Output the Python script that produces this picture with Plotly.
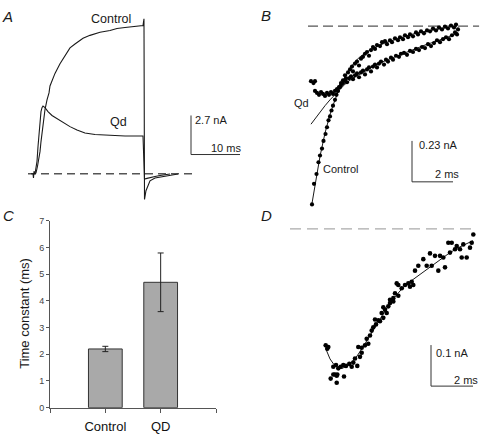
import plotly.graph_objects as go

# ---------------- Panel A : current traces (ms, nA) ----------------
a_time_control = [-0.82, -0.41, -0.31, -0.20, 0.00, 0.20, 0.51, 0.71, 1.02, 1.22, 1.43, 1.63, 1.84, 2.04,
                  2.45, 2.86, 3.06, 3.47, 4.08, 5.10, 6.12, 7.14, 8.16, 9.80, 11.22, 13.27, 15.31, 16.73,
                  18.37, 20.00, 22.04, 22.24, 22.35, 22.65, 23.06, 23.47, 24.49, 25.51, 26.53, 28.16, 29.18]
a_curr_control = [0, 0, -0.29, 0.18, 0, 0.05, 0.52, 0.86, 1.53, 2.21, 2.89, 3.56, 4.10, 4.44,
                  5.11, 5.59, 6.07, 6.47, 6.94, 7.61, 8.16, 8.70, 8.97, 9.37, 9.57, 9.78, 9.91, 10.05,
                  10.11, 10.18, 10.25, 10.72, -1.78, -1.17, -0.76, -0.49, -0.29, -0.22, -0.16, -0.05, -0.02]
a_time_qd = [0.00, 0.20, 0.41, 0.61, 0.82, 1.02, 1.22, 1.43, 1.63, 2.04, 2.65, 3.47, 4.69, 5.92,
             7.14, 8.57, 10.20, 12.24, 15.31, 18.37, 22.04, 22.35, 22.86, 23.47, 24.49, 25.51, 26.53, 27.55]
a_curr_qd = [0, 0.32, 0.86, 1.87, 2.89, 3.70, 4.30, 4.57, 4.68, 4.57, 4.30, 4.03, 3.76, 3.49,
             3.26, 3.02, 2.82, 2.72, 2.65, 2.61, 2.61, -0.36, -0.32, -0.26, -0.19, -0.12, -0.05, -0.02]
a_baseline_t = [-1.43, 32.24]

# ---------------- Panel B : activation, points and fits (ms, nA) ----------------
b_t_control = [0, 0.098, 0.220, 0.317, 0.390, 0.488, 0.561, 0.659, 0.732, 0.805, 0.878, 0.951, 1.024, 1.122,
               1.195, 1.268, 1.366, 1.415, 1.512, 1.610, 1.659, 1.756, 1.854, 1.951, 2.000, 2.098, 2.195,
               2.293, 2.390, 2.488, 2.585, 2.683, 2.780, 2.878, 2.976, 3.073, 3.171, 3.317, 3.415, 3.561,
               3.659, 3.805, 3.902, 4.049, 4.195, 4.293, 4.439, 4.537, 4.683, 4.780, 4.927, 5.073, 5.171,
               5.317, 5.463, 5.610, 5.756, 5.902, 6.049, 6.195, 6.341, 6.488, 6.634, 6.780, 6.927, 7.024]
b_i_control = [-1.002, -0.886, -0.831, -0.765, -0.727, -0.688, -0.645, -0.606, -0.568, -0.529, -0.507, -0.474,
               -0.447, -0.414, -0.386, -0.364, -0.342, -0.320, -0.304, -0.276, -0.293, -0.260, -0.243, -0.227,
               -0.254, -0.210, -0.199, -0.221, -0.183, -0.172, -0.155, -0.145, -0.166, -0.134, -0.117, -0.128,
               -0.106, -0.112, -0.090, -0.084, -0.101, -0.079, -0.090, -0.068, -0.079, -0.062, -0.073, -0.051,
               -0.062, -0.046, -0.057, -0.035, -0.046, -0.029, -0.040, -0.024, -0.029, -0.013, -0.024, -0.007,
               -0.018, -0.002, -0.013, 0.004, -0.007, 0.009]
b_t_qd = [-0.049, 0.073, 0.146, 0.146, 0.244, 0.341, 0.439, 0.537, 0.634, 0.732, 0.829, 0.927, 1.024, 1.122,
          1.220, 1.317, 1.415, 1.512, 1.610, 1.707, 1.805, 1.902, 2.000, 2.098, 2.195, 2.293, 2.390, 2.488,
          2.585, 2.683, 2.780, 2.878, 2.976, 3.073, 3.171, 3.268, 3.366, 3.512, 3.610, 3.707, 3.854, 3.951,
          4.098, 4.244, 4.341, 4.488, 4.634, 4.780, 4.927, 5.073, 5.220, 5.366, 5.512, 5.659, 5.805, 5.951,
          6.098, 6.244, 6.390, 6.537, 6.683, 6.829, 6.976, 7.073, 7.122]
b_i_qd = [-0.309, -0.320, -0.309, -0.364, -0.375, -0.386, -0.370, -0.381, -0.392, -0.375, -0.386, -0.370,
          -0.381, -0.364, -0.353, -0.342, -0.331, -0.320, -0.304, -0.315, -0.293, -0.282, -0.298, -0.276,
          -0.265, -0.287, -0.260, -0.249, -0.271, -0.243, -0.232, -0.254, -0.227, -0.216, -0.232, -0.210,
          -0.199, -0.216, -0.188, -0.199, -0.177, -0.188, -0.166, -0.172, -0.155, -0.150, -0.161, -0.139,
          -0.145, -0.128, -0.134, -0.117, -0.123, -0.101, -0.112, -0.095, -0.079, -0.090, -0.073, -0.062,
          -0.073, -0.051, -0.035, -0.046, -0.018]
b_fit_t_control = [0, 0.390, 0.634, 0.878, 1.122, 1.366, 1.610, 1.854, 2.098, 2.341, 2.829, 3.317, 3.805,
                   4.293, 4.780, 5.268, 5.756, 6.244, 6.732, 7.073]
b_fit_i_control = [-0.996, -0.732, -0.601, -0.496, -0.414, -0.342, -0.287, -0.238, -0.199, -0.172, -0.134,
                   -0.106, -0.084, -0.065, -0.048, -0.035, -0.024, -0.013, -0.004, 0.0]
b_fit_t_qd = [-0.049, 0.195, 0.390, 0.634, 0.878, 1.122, 1.366, 1.610, 1.854, 2.146, 2.585, 3.073, 3.561,
              4.049, 4.537, 5.024, 5.512, 6.000, 6.488, 6.976, 7.122]
b_fit_i_qd = [-0.551, -0.513, -0.485, -0.447, -0.414, -0.386, -0.353, -0.326, -0.304, -0.282, -0.254, -0.221,
              -0.194, -0.172, -0.147, -0.125, -0.106, -0.087, -0.068, -0.046, -0.035]
b_baseline_t = [-0.195, 8.15]

# ---------------- Panel C : time constants (ms) ----------------
c_categories = ["Control", "QD"]
c_means = [2.2, 4.7]
c_errors = [0.1, 1.1]
c_yticks = [0, 1, 2, 3, 4, 5, 6, 7]

# ---------------- Panel D : Qd activation, points and fit (ms, nA) ----------------
d_t_points = [-0.014, 0.110, 0.062, 0.348, 0.476, 0.586, 0.429, 0.538, 0.224, 0.348, 0.510, 0.510, 0.857,
              0.700, 0.824, 0.952, 1.110, 1.224, 1.300, 1.381, 1.490, 1.619, 1.700, 1.538, 1.700, 1.857,
              2.014, 1.938, 2.095, 2.176, 2.252, 2.381, 2.490, 2.333, 2.571, 2.729, 2.652, 2.810, 2.729,
              2.967, 2.890, 3.048, 3.205, 3.286, 3.443, 3.367, 3.048, 3.205, 3.443, 3.605, 3.762, 3.919,
              4.081, 4.000, 4.157, 4.238, 4.395, 4.633, 4.952, 4.795, 5.033, 5.348, 5.190, 5.429, 5.586,
              5.667, 5.905, 5.824, 5.986, 6.143, 6.224, 6.381, 6.462, 6.700, 6.538, 6.857, 6.938, 7.014]
d_i_points = [-0.284, -0.288, -0.292, -0.336, -0.332, -0.340, -0.355, -0.355, -0.365, -0.355, -0.358, -0.375,
              -0.360, -0.336, -0.332, -0.334, -0.329, -0.336, -0.326, -0.316, -0.334, -0.312, -0.302, -0.288,
              -0.290, -0.284, -0.280, -0.268, -0.260, -0.248, -0.240, -0.233, -0.223, -0.221, -0.225, -0.217,
              -0.205, -0.197, -0.191, -0.189, -0.205, -0.173, -0.169, -0.157, -0.163, -0.133, -0.181, -0.177,
              -0.137, -0.145, -0.137, -0.133, -0.129, -0.141, -0.137, -0.102, -0.090, -0.074, -0.060, -0.090,
              -0.090, -0.102, -0.066, -0.066, -0.070, -0.094, -0.058, -0.034, -0.034, -0.050, -0.042, -0.050,
              -0.070, -0.070, -0.038, -0.046, -0.034, -0.014]
d_fit_t = [-0.014, 0.190, 0.381, 0.571, 0.762, 1.000, 1.238, 1.476, 1.714, 1.952, 2.190, 2.429, 2.667,
           2.905, 3.143, 3.381, 3.619, 4.000, 4.476, 4.952, 5.429, 5.905, 6.381, 6.714, 7.000]
d_fit_i = [-0.292, -0.317, -0.331, -0.339, -0.340, -0.335, -0.324, -0.310, -0.292, -0.271, -0.252, -0.232,
           -0.212, -0.193, -0.175, -0.160, -0.146, -0.129, -0.111, -0.093, -0.075, -0.058, -0.044, -0.036,
           -0.029]
d_baseline_t = [-1.714, 7.0]

# scale bars: (origin time, origin current, length ms, length nA)
a_scale = (31.84, 1.33, 10, 2.7)
b_scale = (4.878, -0.875, 2, 0.23)
d_scale = (5.0, -0.3833, 2, 0.1)

FONT = "Arial, Liberation Sans, sans-serif"
INK = "#1a1a1a"

fig = go.Figure()


def line(x, y, ax, color=INK, width=1.0, dash=None):
    fig.add_trace(go.Scatter(x=x, y=y, mode="lines", xaxis=ax[0], yaxis=ax[1],
                             line=dict(color=color, width=width, dash=dash), hoverinfo="skip"))


def dots(x, y, ax, size=4.2):
    fig.add_trace(go.Scatter(x=x, y=y, mode="markers", xaxis=ax[0], yaxis=ax[1],
                             marker=dict(color="#000", size=size, line=dict(width=0)), hoverinfo="skip"))


def scalebar(sb, ax):
    t0, i0, dt, di = sb
    line([t0, t0, t0 + dt], [i0 + di, i0, i0], ax, color="#333", width=1)


A = ("x", "y"); B = ("x2", "y2"); C = ("x3", "y3"); D = ("x4", "y4")

# Panel A
line(a_baseline_t, [0, 0], A, color="#555", width=1.3, dash="8px,5px")
line(a_time_control, a_curr_control, A, width=1.1)
line(a_time_qd, a_curr_qd, A, width=1.1)
scalebar(a_scale, A)

# Panel B
line(b_baseline_t, [0, 0], B, color="#555", width=1.3, dash="10px,5px")
line(b_fit_t_control, b_fit_i_control, B, width=1)
line(b_fit_t_qd, b_fit_i_qd, B, width=1)
dots(b_t_control, b_i_control, B)
dots(b_t_qd, b_i_qd, B)
scalebar(b_scale, B)

# Panel C
fig.add_trace(go.Bar(x=[1, 2], y=c_means, width=0.61, xaxis="x3", yaxis="y3",
                     marker=dict(color="#a9a9a9", line=dict(color="#333", width=1)),
                     error_y=dict(type="data", array=c_errors, color="#222", thickness=1, width=3),
                     hoverinfo="skip"))

# Panel D
line(d_baseline_t, [0, 0], D, color="#aaa", width=1.3, dash="11px,6px")
line(d_fit_t, d_fit_i, D, width=1)
dots(d_t_points, d_i_points, D, size=4.6)
scalebar(d_scale, D)

hidden = dict(visible=False, showgrid=False, zeroline=False, fixedrange=True)
fig.update_layout(
    width=480, height=440, margin=dict(l=0, r=0, t=0, b=0),
    paper_bgcolor="white", plot_bgcolor="rgba(0,0,0,0)", showlegend=False,
    font=dict(family=FONT, color=INK),
    xaxis=dict(domain=[0, 250 / 480], range=[-7.143, 43.878], anchor="y", **hidden),
    yaxis=dict(domain=[1 - 200 / 440, 1], range=[-1.845, 11.669], anchor="x", **hidden),
    xaxis2=dict(domain=[0.5, 1], range=[-3.512, 8.195], anchor="y2", **hidden),
    yaxis2=dict(domain=[0.5, 1], range=[-1.0896, 0.1192], anchor="x2", **hidden),
    xaxis4=dict(domain=[0.5, 1], range=[-4.095, 7.333], anchor="y4", **hidden),
    yaxis4=dict(domain=[0, 0.5], range=[-0.5024, 0.0214], anchor="x4", **hidden),
    xaxis3=dict(domain=[50 / 480, 216 / 480], range=[0, 3], anchor="y3", showgrid=False, zeroline=False,
                showline=True, linecolor="#555", linewidth=1, ticks="outside", ticklen=4, tickcolor="#555",
                tickvals=[0, 1, 2, 3], ticktext=[""] + c_categories + [""], fixedrange=True,
                tickfont=dict(size=13, color="#111"), ticklabelstandoff=3),
    yaxis3=dict(domain=[1 - 412 / 440, 1 - 221 / 440], range=[0, 7], anchor="x3", showgrid=False,
                zeroline=False, showline=True, linecolor="#555", linewidth=1, ticks="outside", ticklen=3,
                tickcolor="#555", tickvals=c_yticks, tickfont=dict(size=9, color="#444"), fixedrange=True),
)

ann = []


def label(text, x, y, xref, yref, size=11, xanchor="center", yanchor="middle", angle=0):
    ann.append(dict(text=text, x=x, y=y, xref=xref, yref=yref, showarrow=False, xanchor=xanchor,
                    yanchor=yanchor, textangle=angle, font=dict(size=size, color=INK, family=FONT)))


# panel letters
label("<i>A</i>", 0 / 480, 1 - 1 / 440, "paper", "paper", size=15, xanchor="left", yanchor="top")
label("<i>B</i>", 259 / 480, 1 - 0 / 440, "paper", "paper", size=15, xanchor="left", yanchor="top")
label("<i>C</i>", 1 / 480, 1 - 205 / 440, "paper", "paper", size=15, xanchor="left", yanchor="top")
label("<i>D</i>", 259 / 480, 1 - 205 / 440, "paper", "paper", size=15, xanchor="left", yanchor="top")

# panel A texts
label("Control", 15.41, 10.72, "x", "y", size=12.5)
label("Qd", 17.04, 3.56, "x", "y", size=12.5)
label("2.7 nA", 32.24, 3.73, "x", "y", size=11, xanchor="left")
label("10 ms", 38.98, 1.80, "x", "y", size=11)

# panel B texts
label("Qd", -0.488, -0.430, "x2", "y2", size=11)
label("Control", 1.366, -0.804, "x2", "y2", size=11)
label("0.23 nA", 5.12, -0.666, "x2", "y2", size=11, xanchor="left")
label("2 ms", 6.585, -0.829, "x2", "y2", size=11)

# panel C y title
label("Time constant (ms)", 25 / 480, 1 - 316 / 440, "paper", "paper", size=13, angle=-90)

# panel D texts
label("0.1 nA", 5.12, -0.3036, "x4", "y4", size=11, xanchor="left")
label("2 ms", 6.667, -0.369, "x4", "y4", size=11)

fig.update_layout(annotations=ann)
fig.write_html("out.html", config={"displayModeBar": False, "staticPlot": True},
               post_script="document.body.style.margin='0';document.body.style.overflow='hidden';")
